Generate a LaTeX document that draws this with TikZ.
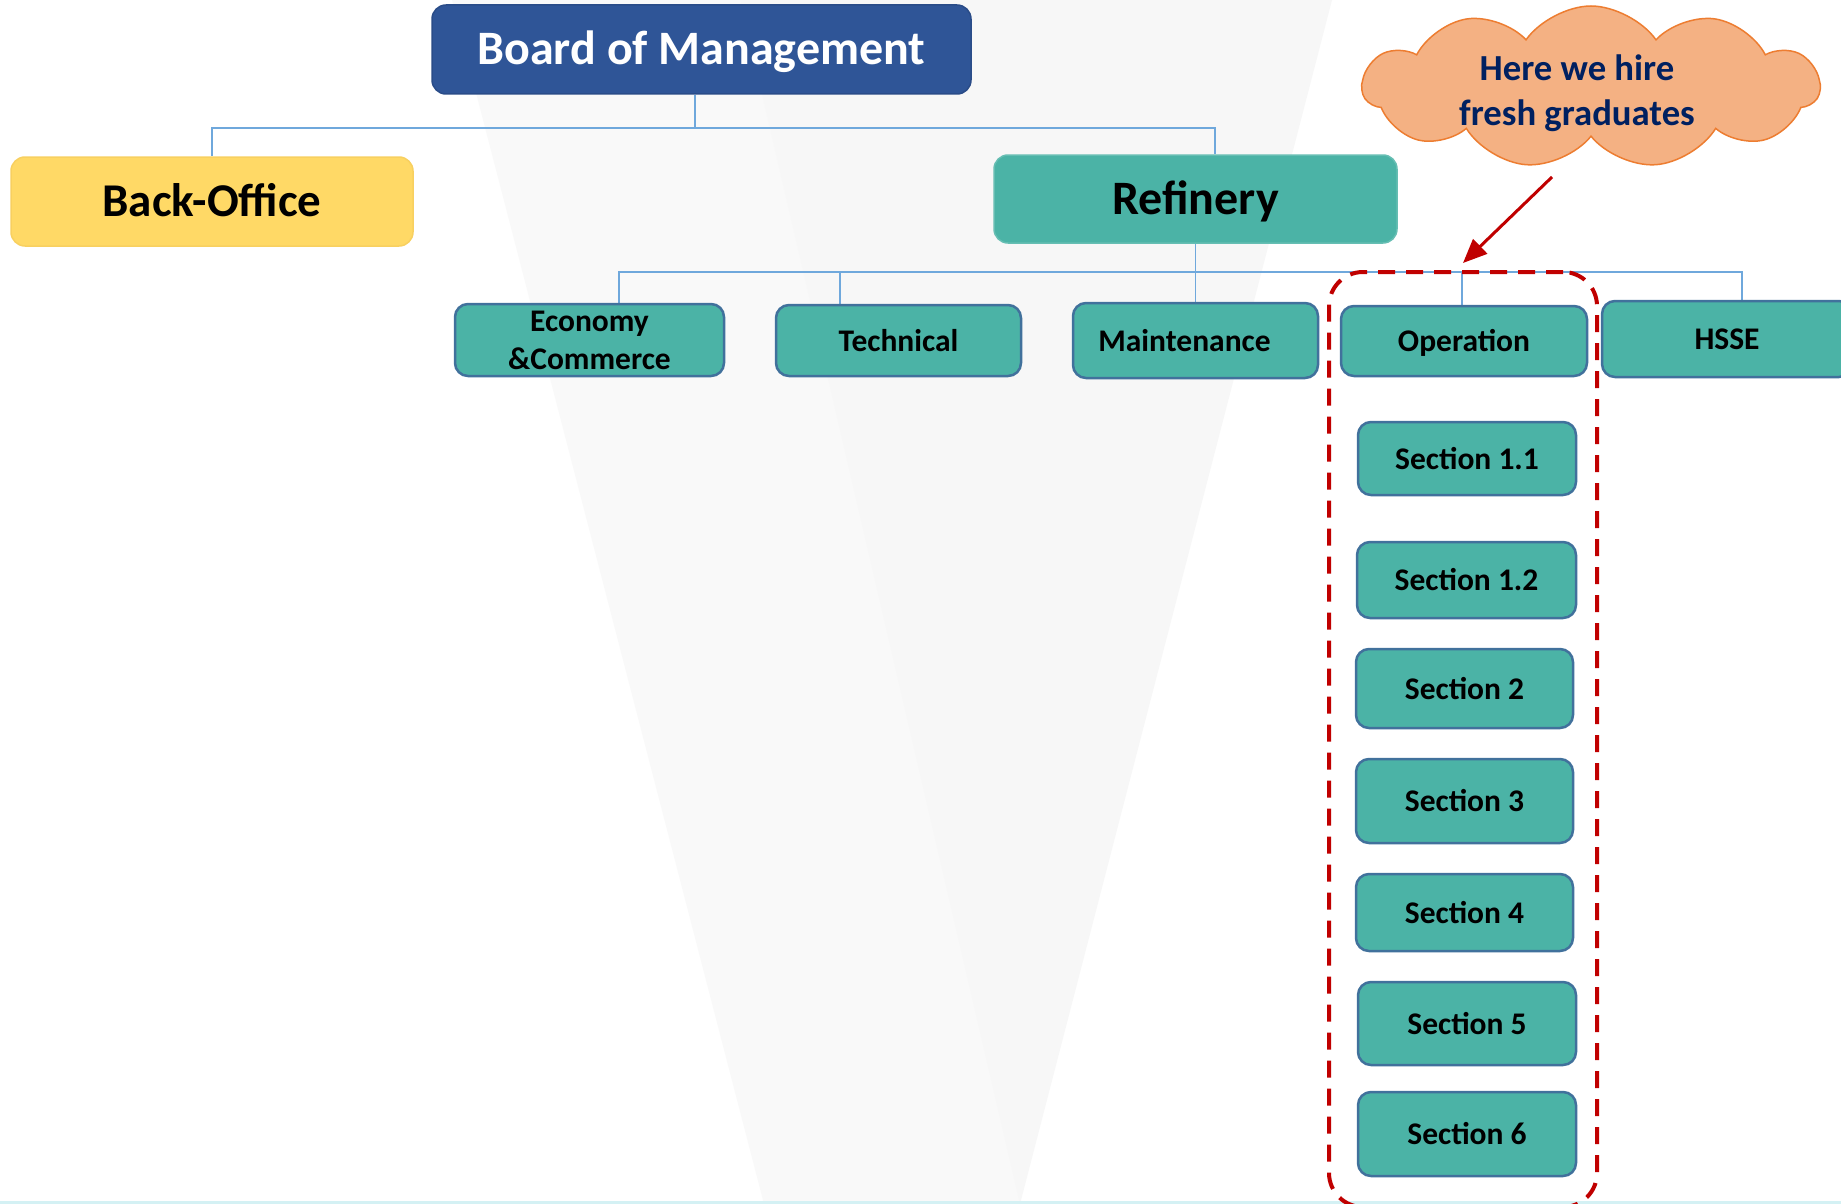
\documentclass[tikz,border=0pt]{standalone}
\usepackage{fontspec}
\setmainfont{Carlito}
\usetikzlibrary{shapes.symbols,arrows.meta,calc}
\definecolor{boardblue}{HTML}{2F5597}
\definecolor{boardedge}{HTML}{2A4C88}
\definecolor{yel}{HTML}{FFD966}
\definecolor{yeledge}{HTML}{F8D060}
\definecolor{tealf}{HTML}{4BB3A6}
\definecolor{tealedge}{HTML}{41719C}
\definecolor{connc}{HTML}{6FA8DC}
\definecolor{cloudfill}{HTML}{F4B183}
\definecolor{cloudedge}{HTML}{ED7D31}
\definecolor{navy}{HTML}{002060}
\definecolor{darkred}{HTML}{C00000}
\definecolor{bgA}{HTML}{F9F9F9}
\definecolor{bgB}{HTML}{F7F7F7}
\definecolor{bottomline}{HTML}{D4F1F4}
\pgfdeclarelayer{bglayer}
\pgfdeclarelayer{linelayer}
\pgfsetlayers{bglayer,linelayer,main}
\begin{document}
\begin{tikzpicture}[x=1pt,y=-1pt,
  bigbox/.style={rounded corners=14pt, inner sep=0pt, line width=1.5pt,
    font=\fontsize{48}{58}\selectfont\bfseries, text height=30.9pt, text depth=0pt},
  unitbox/.style={rounded corners=13pt, draw=tealedge, line width=2.5pt, fill=tealf,
    inner sep=0pt, font=\fontsize{31.5}{38}\selectfont\bfseries},
  oneline/.style={text height=21.5pt, text depth=0pt},
  connector/.style={draw=connc, line width=1.5pt},
  groupbox/.style={draw=darkred, line width=4pt, dash pattern=on 17pt off 11pt,
    rounded corners=34pt, inner sep=0pt},
  hint/.style={draw=darkred, line width=3pt, -{Triangle[length=24pt,width=20pt]}}
]
\useasboundingbox (0,0) rectangle (1841,1204);
\clip (0,0) rectangle (1841,1204);

% background
\begin{pgfonlayer}{bglayer}
\fill[white] (0,0) rectangle (1841,1204);
\fill[bgA] (452,0) -- (740,0) -- (1021,1204) -- (764,1204) -- cycle;
\fill[bgB] (740,0) -- (1332,0) -- (1020,1204) -- cycle;
\fill[bottomline] (0,1201) rectangle (1841,1204);
\end{pgfonlayer}

% top level
\node[bigbox, fill=boardblue, draw=boardedge, text=white,
  minimum width=539pt, minimum height=89pt] (board) at (701.5,49.5) {Board of Management};
\node[bigbox, fill=yel, draw=yeledge, font=\fontsize{47}{56}\selectfont\bfseries, text height=30.3pt,
  minimum width=402pt, minimum height=89pt] (back) at (212,201.5) {Back-Office};
\node[bigbox, fill=tealf, draw=tealf!85!white,
  minimum width=403pt, minimum height=88pt] (ref) at (1195.5,199) {Refinery};

% dashed group
\node[groupbox, minimum width=268pt, minimum height=935pt] (opgroup) at (1463,739.5) {};

% departments
\node[unitbox, align=center, minimum width=269pt, minimum height=72pt] (eco) at (589.5,340) {Economy\\\&Commerce};
\node[unitbox, oneline, minimum width=245pt, minimum height=71pt] (tech) at (898.5,340.5) {Technical};
\node[unitbox, oneline, minimum width=245pt, minimum height=75pt] (maint) at (1195.5,340.5) {Maintenance\hspace*{22pt}};
\node[unitbox, oneline, minimum width=246pt, minimum height=70pt] (oper) at (1464,341) {Operation};
\node[unitbox, oneline, minimum width=250pt, minimum height=76pt] (hsse) at (1727,339) {HSSE};

% sections
\node[unitbox, oneline, minimum width=218pt, minimum height=73pt] (s11) at (1467,458.5) {Section 1.1};
\node[unitbox, oneline, minimum width=219pt, minimum height=76pt] (s12) at (1466.5,580) {Section 1.2};
\node[unitbox, oneline, minimum width=217pt, minimum height=79pt] (s2) at (1464.5,688.5) {Section 2};
\node[unitbox, oneline, minimum width=217pt, minimum height=84pt] (s3) at (1464.5,801) {Section 3};
\node[unitbox, oneline, minimum width=217pt, minimum height=77pt] (s4) at (1464.5,912.5) {Section 4};
\node[unitbox, oneline, minimum width=218pt, minimum height=83pt] (s5) at (1467,1023.5) {Section 5};
\node[unitbox, oneline, minimum width=218pt, minimum height=84pt] (s6) at (1467,1134) {Section 6};

% connectors
\coordinate (j1) at (695,128);
\coordinate (j2) at (1195.5,272);
\begin{pgfonlayer}{linelayer}
\draw[connector] (board.south -| j1) -- (j1);
\draw[connector] (j1) -| (back.north);
\draw[connector] (j1) -| ($(ref.north)+(19.5,0)$);
\draw[connector] (ref.south) -- (j2);
\draw[connector] (j2) -| ($(eco.north)+(29.5,0)$);
\draw[connector] (j2) -| ($(tech.north)+(-58.5,0)$);
\draw[connector] (j2) -- (maint.north);
\draw[connector] (j2) -| ($(oper.north)+(-2,0)$);
\draw[connector] (j2) -| ($(hsse.north)+(15,0)$);
\end{pgfonlayer}

% cloud
\node[cloud, cloud puffs=11, cloud puff arc=110, aspect=2.8,
  minimum width=457pt, minimum height=162pt, inner sep=0pt,
  fill=cloudfill, draw=cloudedge, line width=1.5pt] (cloud) at (1591,87) {};
\node[font=\fontsize{36.7}{45}\selectfont\bfseries, text=navy, align=center,
  inner sep=0pt] (cloudtext) at (1577,93) {Here we hire\\fresh graduates};
\draw[hint] ($(cloud.center)+(-39,90)$) -- ($(opgroup.north)+(0,-7)$);
\end{tikzpicture}
\end{document}
